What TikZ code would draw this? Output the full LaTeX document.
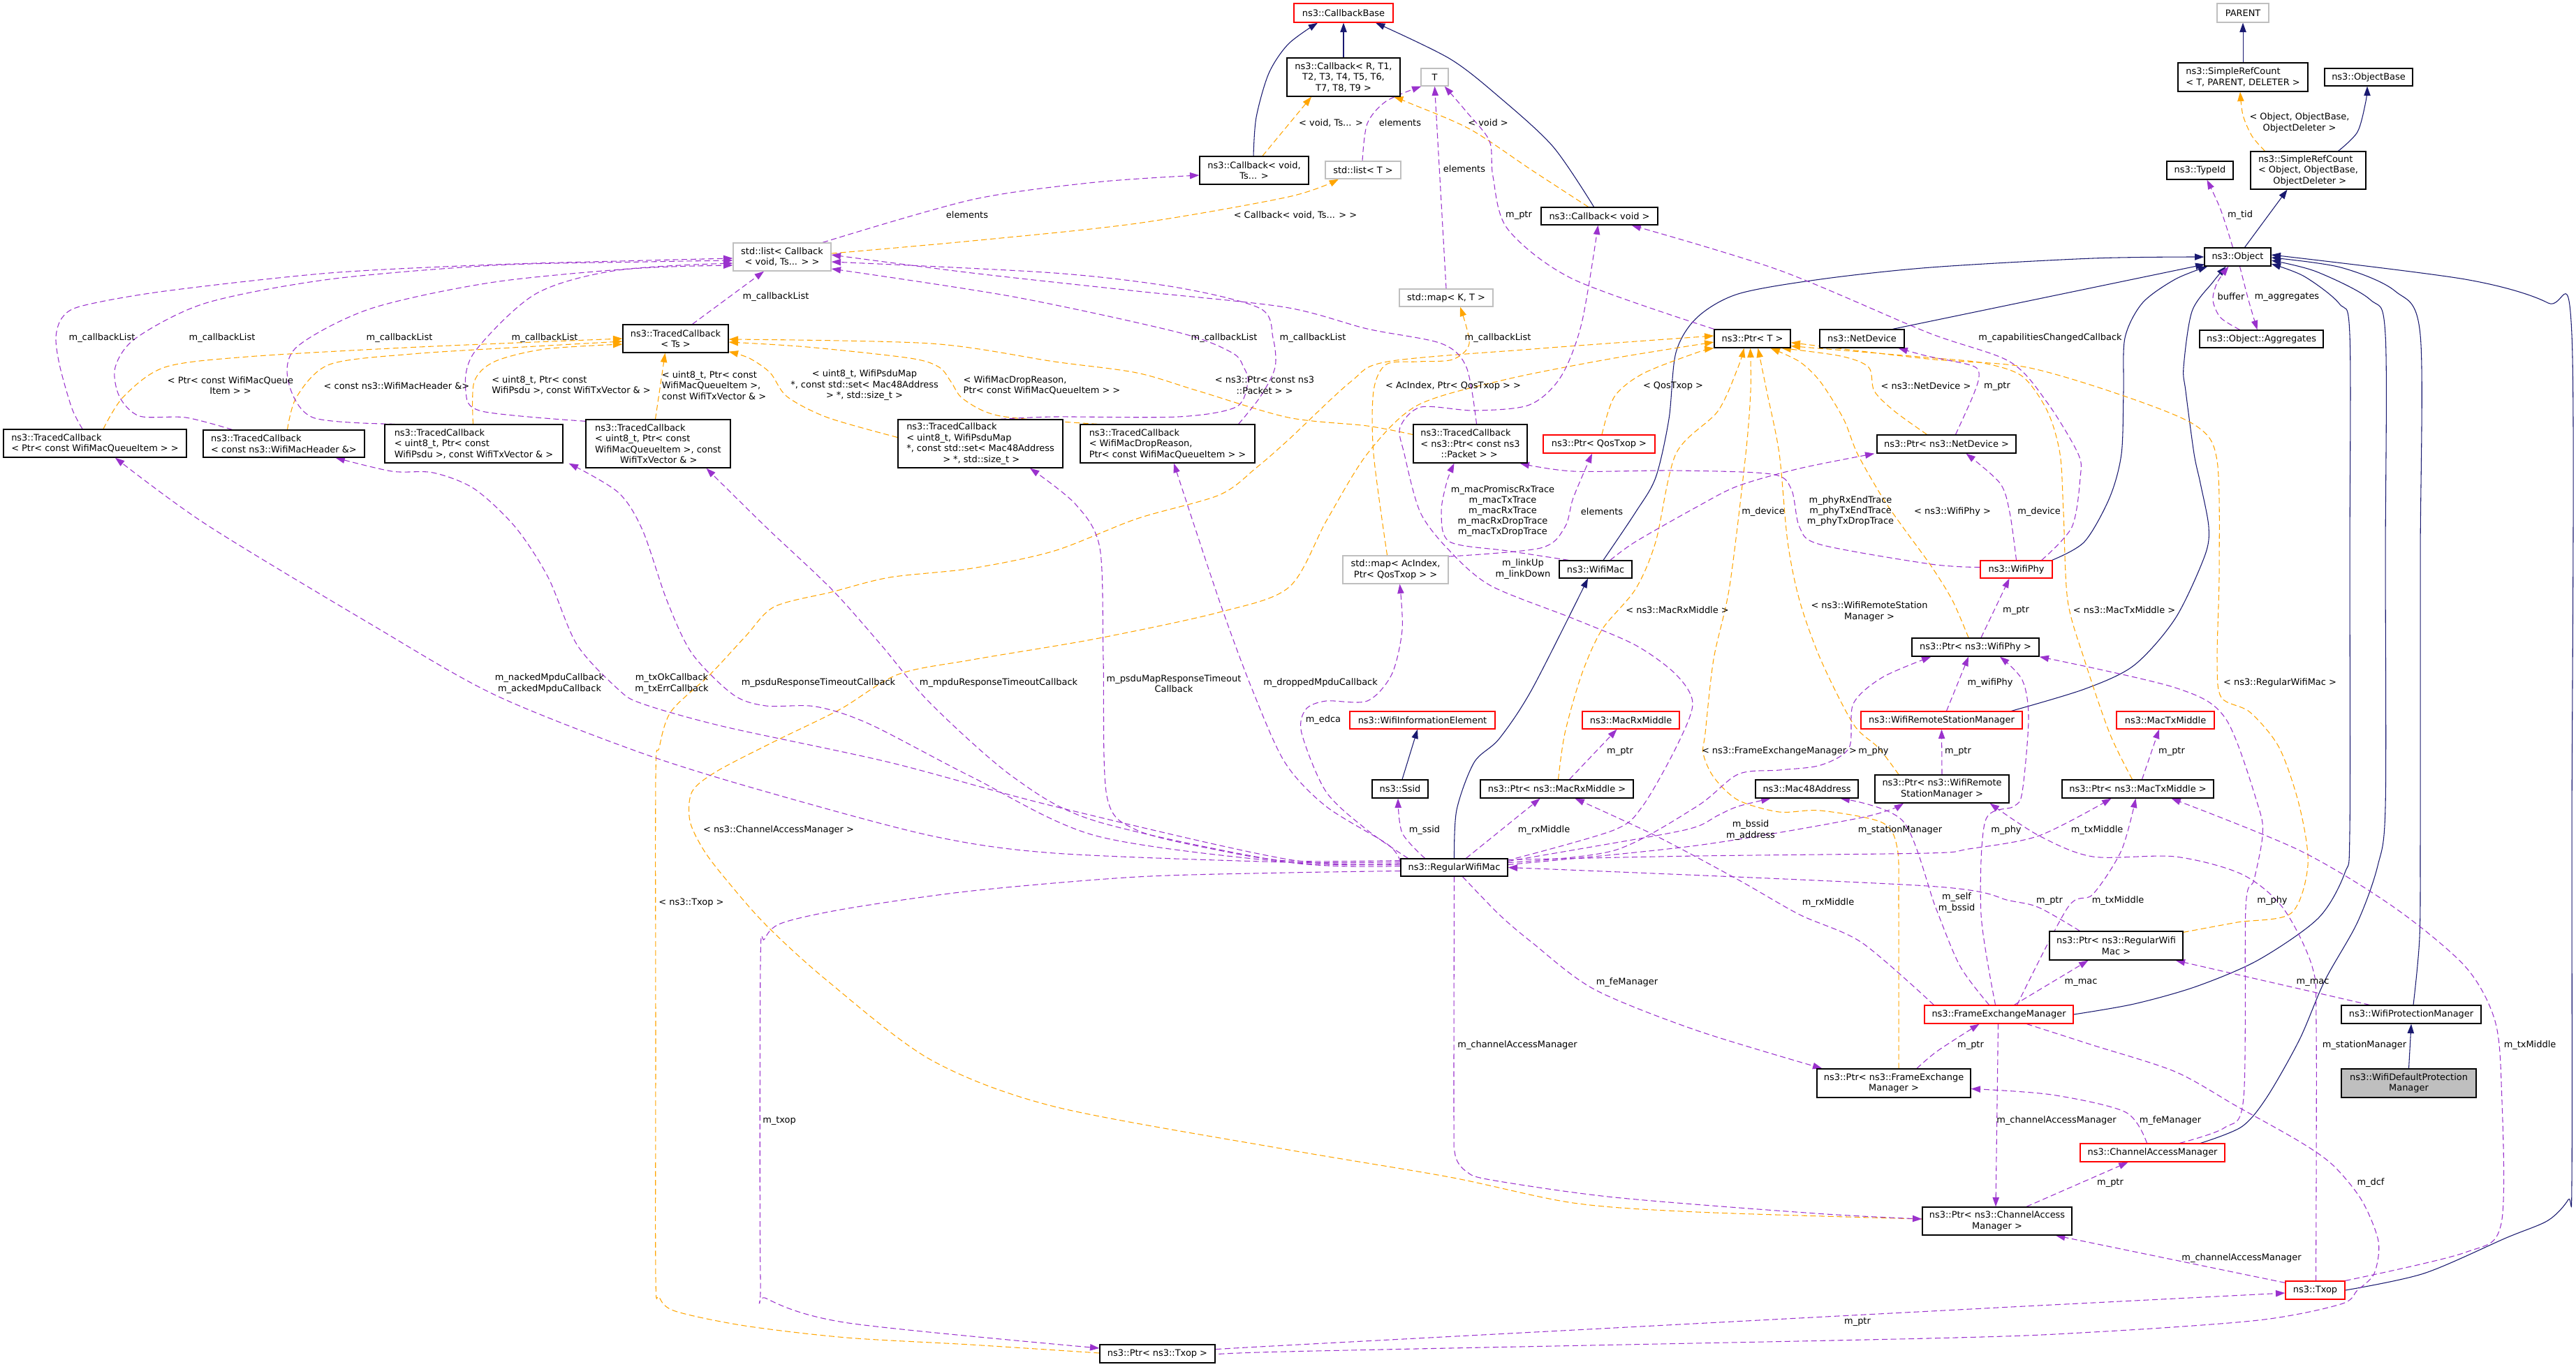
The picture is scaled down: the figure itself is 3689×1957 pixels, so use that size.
\documentclass[tikz,border=0pt]{standalone}
\usepackage{fontspec}
\setmainfont{DejaVu Sans}
\usetikzlibrary{arrows.meta,calc}
\definecolor{inhblue}{HTML}{191970}
\definecolor{mempurple}{HTML}{9A32CD}
\definecolor{tplorange}{HTML}{FFA500}
\definecolor{extgray}{HTML}{BFBFBF}
\pgfdeclarelayer{bg}
\pgfdeclarelayer{edges}
\pgfsetlayers{bg,edges,main}

\begin{document}
\begin{tikzpicture}[x=0.75pt, y=-0.75pt, font=\fontsize{9.7}{11.6}\selectfont,
  sz/.style 2 args={minimum width=#1*0.75pt, minimum height=#2*0.75pt},
  cls/.style={draw=black, fill=white, line width=1pt, inner sep=0pt, align=center},
  redcls/.style={cls, draw=red},
  extcls/.style={cls, draw=extgray},
  curcls/.style={cls, fill=extgray},
  lbl/.style={inner sep=0pt, align=center},
  inherit/.style={draw=inhblue, line width=0.8pt, -{Triangle[length=10pt,width=7pt]}},
  member/.style={draw=mempurple, line width=0.8pt, dash pattern=on 6pt off 3.5pt, -{Triangle[length=10pt,width=7pt]}},
  templ/.style={draw=tplorange, line width=0.8pt, dash pattern=on 6pt off 3.5pt, -{Triangle[length=10pt,width=7pt]}}]

\begin{pgfonlayer}{bg}
  \fill[white] (0,0) rectangle (3689,1957);
\end{pgfonlayer}
\useasboundingbox (0,0) rectangle (3689,1957);

% classes
\node[redcls, sz={142}{27}] (CallbackBase) at (1924,18.5) {ns3::CallbackBase};
\node[cls, sz={162}{55}] (CallbackRT) at (1924,110.5) {ns3::Callback< R, T1,\\T2, T3, T4, T5, T6,\\T7, T8, T9 >};
\node[extcls, sz={39}{25}] (T) at (2054.5,110.5) {T};
\node[cls, sz={156}{40}] (CallbackVoidTs) at (1796,244) {ns3::Callback< void,\\Ts... >};
\node[extcls, sz={108}{25}] (ListT) at (1952,243.5) {std::list< T >};
\node[cls, sz={167}{25}] (CallbackVoid) at (2290.5,309.5) {ns3::Callback< void >};
\node[extcls, sz={140}{40}] (ListCallback) at (1120,368) {std::list< Callback\\< void, Ts... > >};
\node[extcls, sz={134}{25}] (MapKT) at (2071,426.5) {std::map< K, T >};
\node[cls, sz={151}{40}] (TracedTs) at (967.5,485) {ns3::TracedCallback\\< Ts >};
\node[cls, sz={262}{40}, align=left] (TracedQueueItem) at (136,635) {ns3::TracedCallback\\< Ptr< const WifiMacQueueItem > >};
\node[cls, sz={231}{39}, align=left] (TracedHeader) at (406.5,635.5) {ns3::TracedCallback\\< const ns3::WifiMacHeader \&>};
\node[cls, sz={255}{55}, align=left] (TracedPsdu) at (678.5,635.5) {ns3::TracedCallback\\< uint8\_t, Ptr< const\\WifiPsdu >, const WifiTxVector \& >};
\node[cls, sz={207}{69}, align=left] (TracedMpdu) at (942.5,635.5) {ns3::TracedCallback\\< uint8\_t, Ptr< const\\WifiMacQueueItem >, const\\\hspace*{27pt}WifiTxVector \& >};
\node[cls, sz={236}{69}, align=left] (TracedPsduMap) at (1404,635.5) {ns3::TracedCallback\\< uint8\_t, WifiPsduMap\\*, const std::set< Mac48Address\\\hspace*{39pt}> *, std::size\_t >};
\node[cls, sz={250}{55}, align=left] (TracedDrop) at (1672,635.5) {ns3::TracedCallback\\< WifiMacDropReason,\\Ptr< const WifiMacQueueItem > >};
\node[cls, sz={163}{55}, align=left] (TracedPacket) at (2105.5,635.5) {ns3::TracedCallback\\< ns3::Ptr< const ns3\\\hspace*{22pt}::Packet > >};
\node[cls, sz={109}{26}] (PtrT) at (2509.5,485) {ns3::Ptr< T >};
\node[cls, sz={121}{26}] (NetDevice) at (2666.5,485) {ns3::NetDevice};
\node[redcls, sz={160}{26}] (PtrQosTxop) at (2290,636) {ns3::Ptr< QosTxop >};
\node[cls, sz={199}{26}] (PtrNetDevice) at (2787.5,636) {ns3::Ptr< ns3::NetDevice >};
\node[extcls, sz={74}{27}] (PARENT) at (3212,18.5) {PARENT};
\node[cls, sz={186}{41}, align=left] (SimpleRefT) at (3212,110.5) {ns3::SimpleRefCount\\< T, PARENT, DELETER >};
\node[cls, sz={126}{25}] (ObjectBase) at (3392,110.5) {ns3::ObjectBase};
\node[cls, sz={95}{26}] (TypeId) at (3150.5,244) {ns3::TypeId};
\node[cls, sz={165}{54}, align=left] (SimpleRefObj) at (3305.5,244) {ns3::SimpleRefCount\\< Object, ObjectBase,\\\hspace*{16pt}ObjectDeleter >};
\node[cls, sz={95}{26}] (Object) at (3204.5,368) {ns3::Object};
\node[cls, sz={177}{25}] (Aggregates) at (3238.5,485.5) {ns3::Object::Aggregates};
\node[cls, sz={104}{25}] (WifiMac) at (2285,815.5) {ns3::WifiMac};
\node[extcls, sz={151}{40}] (MapAcIndex) at (1998.5,816) {std::map< AcIndex,\\Ptr< QosTxop > >};
\node[redcls, sz={103}{25}] (WifiPhy) at (2887.5,815.5) {ns3::WifiPhy};
\node[cls, sz={182}{26}] (PtrWifiPhy) at (2829,927) {ns3::Ptr< ns3::WifiPhy >};
\node[redcls, sz={231}{25}] (WRSM) at (2780.5,1031.5) {ns3::WifiRemoteStationManager};
\node[redcls, sz={140}{25}] (MacTxMiddle) at (3101,1031.5) {ns3::MacTxMiddle};
\node[cls, sz={217}{26}] (PtrMacTxMiddle) at (3061.5,1130) {ns3::Ptr< ns3::MacTxMiddle >};
\node[cls, sz={192}{40}] (PtrWRSM) at (2781,1130) {ns3::Ptr< ns3::WifiRemote\\StationManager >};
\node[redcls, sz={208}{25}] (WifiInfoElem) at (2037,1031.5) {ns3::WifiInformationElement};
\node[redcls, sz={139}{25}] (MacRxMiddle) at (2335.5,1031.5) {ns3::MacRxMiddle};
\node[cls, sz={80}{26}] (Ssid) at (2005,1130) {ns3::Ssid};
\node[cls, sz={219}{26}] (PtrMacRxMiddle) at (2229.5,1130) {ns3::Ptr< ns3::MacRxMiddle >};
\node[cls, sz={147}{26}] (Mac48) at (2587.5,1130) {ns3::Mac48Address};
\node[cls, sz={153}{25}] (RegularWifiMac) at (2082.5,1242.5) {ns3::RegularWifiMac};
\node[cls, sz={191}{41}] (PtrRegularWifiMac) at (3030.5,1354.5) {ns3::Ptr< ns3::RegularWifi\\Mac >};
\node[redcls, sz={213}{26}] (FEM) at (2862.5,1453) {ns3::FrameExchangeManager};
\node[cls, sz={200}{26}] (WPM) at (3453,1453) {ns3::WifiProtectionManager};
\node[curcls, sz={193}{41}] (WDPM) at (3449.5,1551.5) {ns3::WifiDefaultProtection\\Manager};
\node[cls, sz={220}{41}] (PtrFEM) at (2712,1551.5) {ns3::Ptr< ns3::FrameExchange\\Manager >};
\node[redcls, sz={207}{26}] (CAM) at (3082.5,1651) {ns3::ChannelAccessManager};
\node[cls, sz={214}{40}] (PtrCAM) at (2860,1749) {ns3::Ptr< ns3::ChannelAccess\\Manager >};
\node[redcls, sz={85}{26}] (Txop) at (3315.5,1848) {ns3::Txop};
\node[cls, sz={165}{26}] (PtrTxop) at (1657.5,1939) {ns3::Ptr< ns3::Txop >};

\begin{pgfonlayer}{edges}
% inheritance
\draw[inherit] (CallbackRT.north) -- (CallbackBase.south);
\draw[inherit] plot[smooth] coordinates {($(CallbackVoidTs.north)+(-1,0)$) (1799,168) (1817,105) (1845,63) ($(CallbackBase.south)+(-37,0)$)};
\draw[inherit] plot[smooth] coordinates {($(CallbackVoid.north)+(-8,0)$) (2224,210) (2147,139) (2076,84) ($(CallbackBase.south)+(46,0)$)};
\draw[inherit] (SimpleRefT.north) -- (PARENT.south);
\draw[inherit] plot[smooth] coordinates {($(SimpleRefObj.north)+(43,0)$) (3376,189) (3388,145) ($(ObjectBase.south)+(-2,0)$)};
\draw[inherit] ($(Object.north)+(10,0)$) -- ($(SimpleRefObj.south)+(-30,0)$);
\draw[inherit] ($(NetDevice.north)+(44,0)$) -- ($(Object.south west)+(1,-3)$);
\draw[inherit] plot[smooth] coordinates {($(WifiMac.north)+(11,0)$) (2342,734) (2371,684) (2390,600) (2400,505) (2430,455) (2489,421) (2607,400) (2765,383) (2997,370) (Object.west)};
\draw[inherit] plot[smooth] coordinates {($(WifiPhy.north east)+(-1,0)$) (2985,776) (3021,713) (3038,650) (3041,560) (3043,484) (3068,434) (3115,400) ($(Object.south west)+(5,0)$)};
\draw[inherit] plot[smooth] coordinates {($(WRSM.north)+(100,0)$) (2985,987) (3056,953) (3115,886) (3157,797) (3163,755) (3151,692) (3142,650) (3130,560) (3127,526) (3139,446) (3169,404) ($(Object.south)+(-17,0)$)};
\draw[inherit] plot[smooth] coordinates {(FEM.east) (3056,1438) (3145,1413) (3234,1375) (3320,1315) (3358,1250) (3365,1190) (3365,800) (3365,480) (3350,435) (3300,396) ($(Object.east)+(0,10)$)};
\draw[inherit] plot[smooth] coordinates {($(CAM.north)+(69,0)$) (3210,1614) (3246,1572) (3293,1489) (3329,1405) (3376,1321) (3405,1240) (3416,1155) (3416,800) (3416,480) (3394,429) (3317,389) ($(Object.east)+(0,5)$)};
\draw[inherit] plot[smooth] coordinates {($(WPM.north)+(3,0)$) (3465,1342) (3466,1200) (3466,800) (3466,480) (3430,417) (3352,383) ($(Object.east)+(0,1)$)};
\draw[inherit] plot[smooth] coordinates {(Txop.east) (3471,1824) (3589,1773) (3649,1748) (3678,1718) (3683,1690) (3683,1200) (3683,480) (3649,434) (3530,400) ($(Object.east)+(0,-3)$)};
\draw[inherit] ($(Ssid.north)+(3,0)$) -- ($(WifiInfoElem.south)+(-7,0)$);
\draw[inherit] plot[smooth] coordinates {(RegularWifiMac.north) (2086,1160) (2111,1092) (2147,1058) (2194,987) ($(WifiMac.south)+(-11,0)$)};
\draw[inherit] (WDPM.north) -- (WPM.south);

% template instances
\draw[templ] ($(CallbackVoidTs.north)+(12,0)$) -- ($(CallbackRT.south)+(-46,0)$);
\draw[templ] plot[smooth] coordinates {($(CallbackVoid.north)+(-16,0)$) (2194,244) (2105,185) (2017,147) ($(CallbackRT.south)+(72,0)$)};
\draw[templ] plot[smooth] coordinates {($(ListCallback.east)+(0,-5)$) (1392,345) (1628,320) (1845,282) ($(ListT.south)+(-35,0)$)};
\draw[templ] plot[smooth] coordinates {($(MapAcIndex.north)+(-12,0)$) (1967,650) (1967,560) (1985,522) (2030,518) (2080,515) (2104,492) ($(MapKT.south)+(20,0)$)};
\draw[templ] plot[smooth] coordinates {($(PtrQosTxop.north)+(4,0)$) (2312,568) (2353,535) (2430,505) (PtrT.south west)};
\draw[templ] plot[smooth] coordinates {($(PtrNetDevice.north)+(-28,0)$) (2713,589) (2684,560) (2676,526) (2636,510) ($(PtrT.south)+(42,0)$)};
\draw[templ] plot[smooth] coordinates {($(PtrMacRxMiddle.north)+(2,0)$) (2241,1050) (2265,966) (2294,902) (2342,844) (2371,776) (2400,650) (2460,589) (2489,526) ($(PtrT.south)+(-12,0)$)};
\draw[templ] plot[smooth] coordinates {($(PtrFEM.north)+(7,0)$) (2719,1300) (2717,1215) (2695,1178) (2607,1161) (2548,1163) (2489,1146) (2454,1113) (2439,1079) (2442,1050) (2454,944) (2477,839) (2500,650) (2507,560) ($(PtrT.south)+(-3,0)$)};
\draw[templ] plot[smooth] coordinates {($(PtrWRSM.north)+(-62,0)$) (2690,1071) (2654,1037) (2607,944) (2577,860) (2560,776) (2548,650) (2530,560) ($(PtrT.south)+(8,0)$)};
\draw[templ] plot[smooth] coordinates {($(PtrWifiPhy.north)+(-10,0)$) (2796,860) (2765,810) (2725,755) (2696,713) (2660,650) (2640,600) (2607,547) (2577,518) ($(PtrT.south)+(26,0)$)};
\draw[templ] plot[smooth] coordinates {($(PtrMacTxMiddle.north)+(-8,0)$) (3021,1050) (2985,945) (2961,860) (2955,734) (2950,650) (2932,589) (2896,539) (2840,520) (2760,512) ($(PtrT.south east)+(0,-3)$)};
\draw[templ] plot[smooth] coordinates {($(PtrRegularWifiMac.north east)+(0,2)$) (3204,1321) (3281,1308) (3305,1239) (3293,1155) (3264,1071) (3222,1020) (3181,999) (3175,945) (3178,819) (3175,660) (3145,610) (3044,568) (2902,526) (2760,514) ($(PtrT.south east)+(0,-8)$)};
\draw[templ] plot[smooth] coordinates {($(PtrTxop.west)+(0,-1)$) (1390,1926) (1213,1916) (1067,1899) (967,1878) (944,1858) (939,1830) (939,1500) (939,1113) (944,1071) (961,1019) (1017,966) (1068,911) (1109,869) (1191,848) (1274,827) (1392,814) (1510,789) (1628,743) (1746,709) (1799,670) (1845,630) (1934,547) (1987,518) (2194,500) ($(PtrT.west)+(0,-4)$)};
\draw[templ] plot[smooth] coordinates {($(PtrCAM.west)+(0,-3)$) (2430,1736) (2253,1723) (2076,1686) (1840,1646) (1510,1585) (1333,1518) (1185,1405) (1097,1325) (1040,1260) (1008,1218) (988,1176) (991,1134) (1026,1105) (1109,1062) (1203,1016) (1286,966) (1392,945) (1569,915) (1746,877) (1846,841) (1900,745) (1958,650) (2029,581) (2150,545) (2300,515) ($(PtrT.west)+(0,5)$)};
\draw[templ] plot[smooth] coordinates {($(TracedPacket.west)+(0,-13)$) (1958,610) (1845,598) (1716,560) (1628,534) (1510,518) (1333,492) ($(TracedTs.east)+(0,1)$)};
\draw[templ] plot[smooth] coordinates {($(TracedDrop.north west)+(25,0)$) (1433,596) (1380,572) (1362,547) (1345,526) (1303,513) (1156,497) ($(TracedTs.east)+(0,5)$)};
\draw[templ] plot[smooth] coordinates {($(TracedPsduMap.west)+(0,-9)$) (1185,598) (1127,568) (1103,534) (1073,513) ($(TracedTs.south east)+(0,-2)$)};
\draw[templ] ($(TracedMpdu.north)+(-4,0)$) -- ($(TracedTs.south)+(-15,0)$);
\draw[templ] plot[smooth] coordinates {($(TracedPsdu.north)+(-1,0)$) (679,547) (708,518) (780,500) ($(TracedTs.west)+(0,8)$)};
\draw[templ] plot[smooth] coordinates {($(TracedHeader.north)+(5,0)$) (425,568) (472,522) (590,507) (750,497) ($(TracedTs.west)+(0,4)$)};
\draw[templ] plot[smooth] coordinates {($(TracedQueueItem.north)+(12,0)$) (177,568) (236,526) (354,511) (600,497) (TracedTs.west)};
\draw[templ] plot[smooth] coordinates {($(SimpleRefObj.north)+(-62,0)$) (3225,195) (3212,165) ($(SimpleRefT.south)+(-4,0)$)};

% members
\draw[member] plot[smooth] coordinates {($(ListT.north)+(-1,0)$) (1958,177) (1985,145) ($(T.south west)+(1,0)$)};
\draw[member] (MapKT.north) -- (T.south);
\draw[member] plot[smooth] coordinates {(PtrT.north west) (2253,400) (2159,328) (2138,253) (2133,202) (2100,160) ($(T.south east)+(-6,0)$)};
\draw[member] plot[smooth] coordinates {($(ListCallback.north)+(58,0)$) (1392,286) (1569,261) ($(CallbackVoidTs.west)+(0,7)$)};
\draw[member] ($(TracedTs.north)+(24,0)$) -- ($(ListCallback.south)+(-26,0)$);
\draw[member] plot[smooth] coordinates {($(TracedQueueItem.north)+(-18,0)$) (103,585) (86,526) (80,484) (89,455) (118,438) (236,417) (472,391) (708,379) (925,373) ($(ListCallback.west)+(0,2)$)};
\draw[member] plot[smooth] coordinates {($(TracedHeader.north)+(-74,0)$) (266,598) (200,596) (171,568) (165,526) (195,484) (295,434) (472,400) (708,380) (925,375) ($(ListCallback.west)+(0,5)$)};
\draw[member] plot[smooth] coordinates {($(TracedPsdu.north)+(-113,0)$) (448,598) (413,547) (425,497) (531,442) (708,404) (925,383) ($(ListCallback.west)+(0,9)$)};
\draw[member] plot[smooth] coordinates {($(TracedMpdu.north west)+(0,3)$) (690,589) (667,560) (679,505) (767,421) (885,387) ($(ListCallback.west)+(0,12)$)};
\draw[member] plot[smooth] coordinates {($(TracedPsduMap.north)+(29,0)$) (1510,597) (1687,597) (1770,583) (1787,547) (1781,526) (1764,505) (1687,476) (1451,425) ($(ListCallback.east)+(0,17)$)};
\draw[member] plot[smooth] coordinates {($(TracedDrop.north east)+(-24,0)$) (1805,568) (1826,526) (1823,484) (1805,442) (1687,412) (1510,391) ($(ListCallback.east)+(0,7)$)};
\draw[member] plot[smooth] coordinates {($(TracedPacket.north)+(9,0)$) (2100,526) (2064,492) (1958,471) (1840,440) (1628,417) (1392,391) ($(ListCallback.east)+(0,-3)$)};
\draw[member] plot[smooth] coordinates {($(Object.north)+(-7,0)$) (3180,300) ($(TypeId.south)+(10,0)$)};
\draw[member] plot[smooth] coordinates {($(Object.south)+(3,0)$) (3220,430) ($(Aggregates.north)+(-6,0)$)};
\draw[member] plot[smooth] coordinates {($(Aggregates.north)+(-31,0)$) (3180,455) (3169,430) (3175,405) ($(Object.south)+(-13,0)$)};
\draw[member] plot[smooth] coordinates {($(WifiPhy.north east)+(-16,0)$) (2967,755) (2979,684) (2976,650) (2932,577) (2878,518) (2760,476) (2548,387) ($(CallbackVoid.south)+(46,0)$)};
\draw[member] plot[smooth] coordinates {($(PtrNetDevice.north)+(13,0)$) (2825,568) (2834,539) (2825,524) (2760,510) ($(NetDevice.south)+(52,0)$)};
\draw[member] plot[smooth] coordinates {(WifiPhy.north) (2878,734) (2864,692) ($(PtrNetDevice.south)+(28,0)$)};
\draw[member] plot[smooth] coordinates {($(WifiMac.north)+(21,0)$) (2342,776) (2430,726) (2489,696) (2577,671) ($(PtrNetDevice.south west)+(-3,0)$)};
\draw[member] plot[smooth] coordinates {($(RegularWifiMac.north)+(88,0)$) (2311,1189) (2352,1155) (2400,1071) (2424,1008) (2400,966) (2342,924) (2253,886) (2135,839) (2076,789) (2034,734) (2011,650) (2005,612) (2035,583) (2111,588) (2190,580) (2235,540) (2265,463) ($(CallbackVoid.south)+(-2,0)$)};
\draw[member] plot[smooth] coordinates {($(WifiMac.north west)+(14,0)$) (2159,789) (2076,776) (2064,734) (2072,690) ($(TracedPacket.south)+(-23,0)$)};
\draw[member] plot[smooth] coordinates {($(MapAcIndex.east)+(0,-19)$) (2206,785) (2241,755) (2253,713) ($(PtrQosTxop.south)+(-10,0)$)};
\draw[member] plot[smooth] coordinates {($(WifiPhy.west)+(0,-3)$) (2765,808) (2607,780) (2577,755) (2565,700) (2536,679) (2400,674) (2253,675) ($(TracedPacket.south east)+(-11,0)$)};
\draw[member] ($(WRSM.north)+(7,0)$) -- ($(PtrWifiPhy.south)+(-10,0)$);
\draw[member] ($(PtrWifiPhy.north)+(8,0)$) -- ($(WifiPhy.south)+(-10,0)$);
\draw[member] (PtrWRSM.north) -- (WRSM.south);
\draw[member] ($(PtrMacTxMiddle.north)+(6,0)$) -- ($(MacTxMiddle.south)+(-9,0)$);
\draw[member] ($(PtrMacRxMiddle.north)+(18,0)$) -- ($(MacRxMiddle.south)+(-20,0)$);
\draw[member] plot[smooth] coordinates {($(RegularWifiMac.north)+(-42,0)$) (2008,1193) ($(Ssid.south)+(-3,0)$)};
\draw[member] ($(RegularWifiMac.north)+(17,0)$) -- ($(PtrMacRxMiddle.south)+(-24,0)$);
\draw[member] plot[smooth] coordinates {($(FEM.north west)+(14,0)$) (2666,1350) (2577,1310) (2489,1260) (2371,1197) ($(PtrMacRxMiddle.south)+(26,0)$)};
\draw[member] plot[smooth] coordinates {($(RegularWifiMac.east)+(0,-9)$) (2371,1197) (2430,1184) (2460,1168) (2489,1155) ($(Mac48.south)+(-52,0)$)};
\draw[member] plot[smooth] coordinates {($(FEM.north)+(-14,0)$) (2807,1384) (2772,1300) (2725,1176) ($(Mac48.south)+(48,0)$)};
\draw[member] plot[smooth] coordinates {($(RegularWifiMac.east)+(0,-4)$) (2430,1211) (2666,1171) ($(PtrWRSM.south)+(-55,0)$)};
\draw[member] plot[smooth] coordinates {($(Txop.north)+(1,0)$) (3317,1468) (3311,1384) (3269,1300) (3210,1252) (3115,1227) (2997,1227) (2920,1197) ($(PtrWRSM.south east)+(-28,0)$)};
\draw[member] plot[smooth] coordinates {($(RegularWifiMac.east)+(0,-7)$) (2312,1218) (2430,1155) (2489,1109) (2548,1103) (2607,1096) (2648,1071) (2654,1008) (2696,970) ($(PtrWifiPhy.south west)+(28,0)$)};
\draw[member] plot[smooth] coordinates {($(FEM.north)+(-5,0)$) (2837,1310) (2843,1176) (2884,1155) (2896,1134) (2905,1029) (2896,974) ($(PtrWifiPhy.south)+(35,0)$)};
\draw[member] plot[smooth] coordinates {($(CAM.north)+(39,0)$) (3186,1615) (3213,1572) (3216,1300) (3228,1260) (3240,1197) (3234,1155) (3187,1029) (3115,985) (PtrWifiPhy.south east)};
\draw[member] plot[smooth] coordinates {($(RegularWifiMac.east)+(0,-11)$) (2430,1226) (2760,1222) (2819,1216) (2920,1197) ($(PtrMacTxMiddle.south)+(-38,0)$)};
\draw[member] plot[smooth] coordinates {($(FEM.north)+(26,0)$) (2961,1300) (2997,1281) (3038,1218) ($(PtrMacTxMiddle.south)+(-3,0)$)};
\draw[member] plot[smooth] coordinates {(Txop.north east) (3530,1794) (3582,1752) (3582,1551) (3572,1459) (3530,1384) (3429,1300) (3293,1218) ($(PtrMacTxMiddle.south)+(48,0)$)};
\draw[member] plot[smooth] coordinates {($(PtrRegularWifiMac.north west)+(44,0)$) (2920,1300) (2878,1290) (2760,1269) (RegularWifiMac.east)};
\draw[member] ($(FEM.north)+(22,0)$) -- ($(PtrRegularWifiMac.south)+(-40,0)$);
\draw[member] ($(WPM.north west)+(41,0)$) -- ($(PtrRegularWifiMac.south east)+(-11,0)$);
\draw[member] plot[smooth] coordinates {($(RegularWifiMac.south)+(12,0)$) (2147,1310) (2194,1350) (2283,1417) (2430,1476) ($(PtrFEM.north west)+(8,0)$)};
\draw[member] plot[smooth] coordinates {($(CAM.north)+(-8,0)$) (3044,1593) (2938,1568) ($(PtrFEM.east)+(0,8)$)};
\draw[member] plot[smooth] coordinates {($(PtrFEM.north)+(33,0)$) (2775,1505) ($(FEM.south)+(-28,0)$)};
\draw[member] plot[smooth] coordinates {(RegularWifiMac.south) (2082,1600) (2084,1655) (2100,1678) (2135,1690) (2312,1715) (2600,1738) ($(PtrCAM.west)+(0,-3)$)};
\draw[member] ($(FEM.south)+(-1,0)$) -- ($(PtrCAM.north)+(-2,0)$);
\draw[member] ($(PtrCAM.north)+(42,0)$) -- ($(CAM.south)+(-35,0)$);
\draw[member] ($(Txop.north west)+(0,3)$) -- ($(PtrCAM.south)+(84,0)$);
\draw[member] plot[smooth] coordinates {($(PtrTxop.east)+(0,-6)$) (1840,1927) (2765,1878) (2997,1866) ($(Txop.west)+(0,4)$)};
\draw[member] plot[smooth] coordinates {($(FEM.south)+(40,0)$) (2997,1497) (3115,1535) (3204,1585) (3293,1635) (3341,1669) (3382,1719) (3406,1778) (3400,1824) (3376,1848) (3352,1868) (3234,1891) (2997,1908) (2760,1917) (1840,1936) ($(PtrTxop.east)+(0,3)$)};
\draw[member] plot[smooth] coordinates {($(RegularWifiMac.west)+(0,5)$) (1845,1250) (1628,1256) (1392,1276) (1215,1301) (1120,1322) (1095,1345) (1089,1380) (1089,1830) (1098,1860) (1215,1895) ($(PtrTxop.west)+(0,-8)$)};
\draw[member] plot[smooth] coordinates {($(RegularWifiMac.north west)+(11,0)$) (1958,1189) (1899,1134) (1864,1050) (1870,1016) (1899,1004) (1958,1004) (1993,966) (2008,902) ($(MapAcIndex.south)+(6,0)$)};
\draw[member] plot[smooth] coordinates {($(RegularWifiMac.west)+(0,-8)$) (1845,1235) (1510,1222) (1333,1197) (1097,1134) (920,1079) (708,995) (531,894) (295,751) ($(TracedQueueItem.south)+(29,0)$)};
\draw[member] plot[smooth] coordinates {($(RegularWifiMac.west)+(0,-6)$) (1845,1231) (1510,1155) (1274,1092) (1038,1041) (920,1008) (885,987) (826,923) (785,827) (738,755) (679,700) (620,677) (561,675) ($(TracedHeader.south)+(74,0)$)};
\draw[member] plot[smooth] coordinates {($(RegularWifiMac.west)+(0,-4)$) (1845,1235) (1569,1197) (1392,1113) (1245,1037) (1168,1012) (1097,1011) (1050,995) (991,936) (955,860) (920,759) (885,705) ($(TracedPsdu.south east)+(8,0)$)};
\draw[member] plot[smooth] coordinates {($(RegularWifiMac.west)+(0,-2)$) (1845,1235) (1569,1176) (1451,1113) (1333,1008) (1262,924) (1191,844) (1097,755) ($(TracedMpdu.south)+(69,0)$)};
\draw[member] plot[smooth] coordinates {($(RegularWifiMac.west)+(0,-10)$) (1845,1233) (1746,1218) (1628,1189) (1585,1140) (1580,945) (1575,785) (1540,722) ($(TracedPsduMap.south)+(71,0)$)};
\draw[member] plot[smooth] coordinates {($(RegularWifiMac.north west)+(0,5)$) (1988,1210) (1899,1155) (1840,1092) (1793,987) (1746,860) ($(TracedDrop.south)+(9,0)$)};
\end{pgfonlayer}

% template labels
\node[lbl] (t1) at (1906,176) {< void, Ts... >};
\node[lbl] (t2) at (2131,176) {< void >};
\node[lbl] (t3) at (1855,308) {< Callback< void, Ts... > >};
\node[lbl] (t4) at (2081,553) {< AcIndex, Ptr< QosTxop > >};
\node[lbl] (t5) at (2396,553) {< QosTxop >};
\node[lbl] (t6) at (2758,553) {< ns3::NetDevice >};
\node[lbl] (t7) at (2402,874) {< ns3::MacRxMiddle >};
\node[lbl] (t8) at (2548,1076) {< ns3::FrameExchangeManager >};
\node[lbl] (t9) at (2677,876) {< ns3::WifiRemoteStation\\Manager >};
\node[lbl] (t10) at (2796,733) {< ns3::WifiPhy >};
\node[lbl] (t11) at (3042,874) {< ns3::MacTxMiddle >};
\node[lbl] (t12) at (3265,978) {< ns3::RegularWifiMac >};
\node[lbl] (t13) at (990,1293) {< ns3::Txop >};
\node[lbl] (t14) at (1115,1189) {< ns3::ChannelAccessManager >};
\node[lbl] (t15) at (1811,552) {< ns3::Ptr< const ns3\\::Packet > >};
\node[lbl, align=left] (t16) at (1492,552) {< WifiMacDropReason,\\Ptr< const WifiMacQueueItem > >};
\node[lbl] (t17) at (1238,552) {< uint8\_t, WifiPsduMap\\*, const std::set< Mac48Address\\> *, std::size\_t >};
\node[lbl, align=left] (t18) at (1022.5,552) {< uint8\_t, Ptr< const\\WifiMacQueueItem >,\\const WifiTxVector \& >};
\node[lbl, align=left] (t19) at (818,552) {< uint8\_t, Ptr< const\\WifiPsdu >, const WifiTxVector \& >};
\node[lbl] (t20) at (568,553) {< const ns3::WifiMacHeader \&>};
\node[lbl] (t21) at (330,552) {< Ptr< const WifiMacQueue\\Item > >};
\node[lbl] (t22) at (3293,176) {< Object, ObjectBase,\\ObjectDeleter >};

% member labels
\node[lbl] (m1) at (2005,176) {elements};
\node[lbl] (m2) at (2097,242) {elements};
\node[lbl] (m3) at (2175,308) {m\_ptr};
\node[lbl] (m4) at (1385,308) {elements};
\node[lbl] (m5) at (1111,425) {m\_callbackList};
\node[lbl] (m6) at (146,484) {m\_callbackList};
\node[lbl] (m7) at (318,484) {m\_callbackList};
\node[lbl] (m8) at (572,484) {m\_callbackList};
\node[lbl] (m9) at (780,484) {m\_callbackList};
\node[lbl] (m10) at (1753,484) {m\_callbackList};
\node[lbl] (m11) at (1880,484) {m\_callbackList};
\node[lbl] (m12) at (2145,484) {m\_callbackList};
\node[lbl] (m13) at (3208,308) {m\_tid};
\node[lbl] (m14) at (3275,425) {m\_aggregates};
\node[lbl] (m15) at (3195,425) {buffer};
\node[lbl] (m16) at (2936,484) {m\_capabilitiesChangedCallback};
\node[lbl] (m17) at (2860,553) {m\_ptr};
\node[lbl] (m18) at (2920,733) {m\_device};
\node[lbl] (m19) at (2525,733) {m\_device};
\node[lbl] (m20) at (2181,815) {m\_linkUp\\m\_linkDown};
\node[lbl, font=\fontsize{9.7}{11.1}\selectfont] (m21) at (2152,732) {m\_macPromiscRxTrace\\m\_macTxTrace\\m\_macRxTrace\\m\_macRxDropTrace\\m\_macTxDropTrace};
\node[lbl] (m22) at (2294,733) {elements};
\node[lbl, font=\fontsize{9.7}{11.1}\selectfont] (m23) at (2650,732) {m\_phyRxEndTrace\\m\_phyTxEndTrace\\m\_phyTxDropTrace};
\node[lbl] (m24) at (2850,978) {m\_wifiPhy};
\node[lbl] (m25) at (2887,874) {m\_ptr};
\node[lbl] (m26) at (2804,1076) {m\_ptr};
\node[lbl] (m27) at (3110,1076) {m\_ptr};
\node[lbl] (m28) at (2320,1076) {m\_ptr};
\node[lbl] (m29) at (2040,1189) {m\_ssid};
\node[lbl] (m30) at (2211,1189) {m\_rxMiddle};
\node[lbl] (m31) at (2618,1293) {m\_rxMiddle};
\node[lbl] (m32) at (2507,1189) {m\_bssid\\m\_address};
\node[lbl] (m33) at (2802,1293) {m\_self\\m\_bssid};
\node[lbl] (m34) at (2721,1189) {m\_stationManager};
\node[lbl] (m35) at (3386,1497) {m\_stationManager};
\node[lbl] (m36) at (2683,1076) {m\_phy};
\node[lbl] (m37) at (2873,1189) {m\_phy};
\node[lbl] (m38) at (3254,1290) {m\_phy};
\node[lbl] (m39) at (3003,1189) {m\_txMiddle};
\node[lbl] (m40) at (3033,1290) {m\_txMiddle};
\node[lbl] (m41) at (3623,1497) {m\_txMiddle};
\node[lbl] (m42) at (2935,1290) {m\_ptr};
\node[lbl] (m43) at (2980,1407) {m\_mac};
\node[lbl] (m44) at (3312,1407) {m\_mac};
\node[lbl] (m45) at (2330,1407) {m\_feManager};
\node[lbl] (m46) at (3108,1605) {m\_feManager};
\node[lbl] (m47) at (2822,1497) {m\_ptr};
\node[lbl] (m48) at (2173,1497) {m\_channelAccessManager};
\node[lbl] (m49) at (2945,1605) {m\_channelAccessManager};
\node[lbl] (m50) at (3022,1694) {m\_ptr};
\node[lbl] (m51) at (3210,1802) {m\_channelAccessManager};
\node[lbl] (m52) at (2660,1893) {m\_ptr};
\node[lbl] (m53) at (3395,1694) {m\_dcf};
\node[lbl] (m54) at (1116,1605) {m\_txop};
\node[lbl] (m55) at (1895,1031) {m\_edca};
\node[lbl] (m56) at (787,979) {m\_nackedMpduCallback\\m\_ackedMpduCallback};
\node[lbl] (m57) at (962,979) {m\_txOkCallback\\m\_txErrCallback};
\node[lbl] (m58) at (1172,978) {m\_psduResponseTimeoutCallback};
\node[lbl] (m59) at (1430,978) {m\_mpduResponseTimeoutCallback};
\node[lbl] (m60) at (1681,979) {m\_psduMapResponseTimeout\\Callback};
\node[lbl] (m61) at (1891,978) {m\_droppedMpduCallback};
\end{tikzpicture}
\end{document}
